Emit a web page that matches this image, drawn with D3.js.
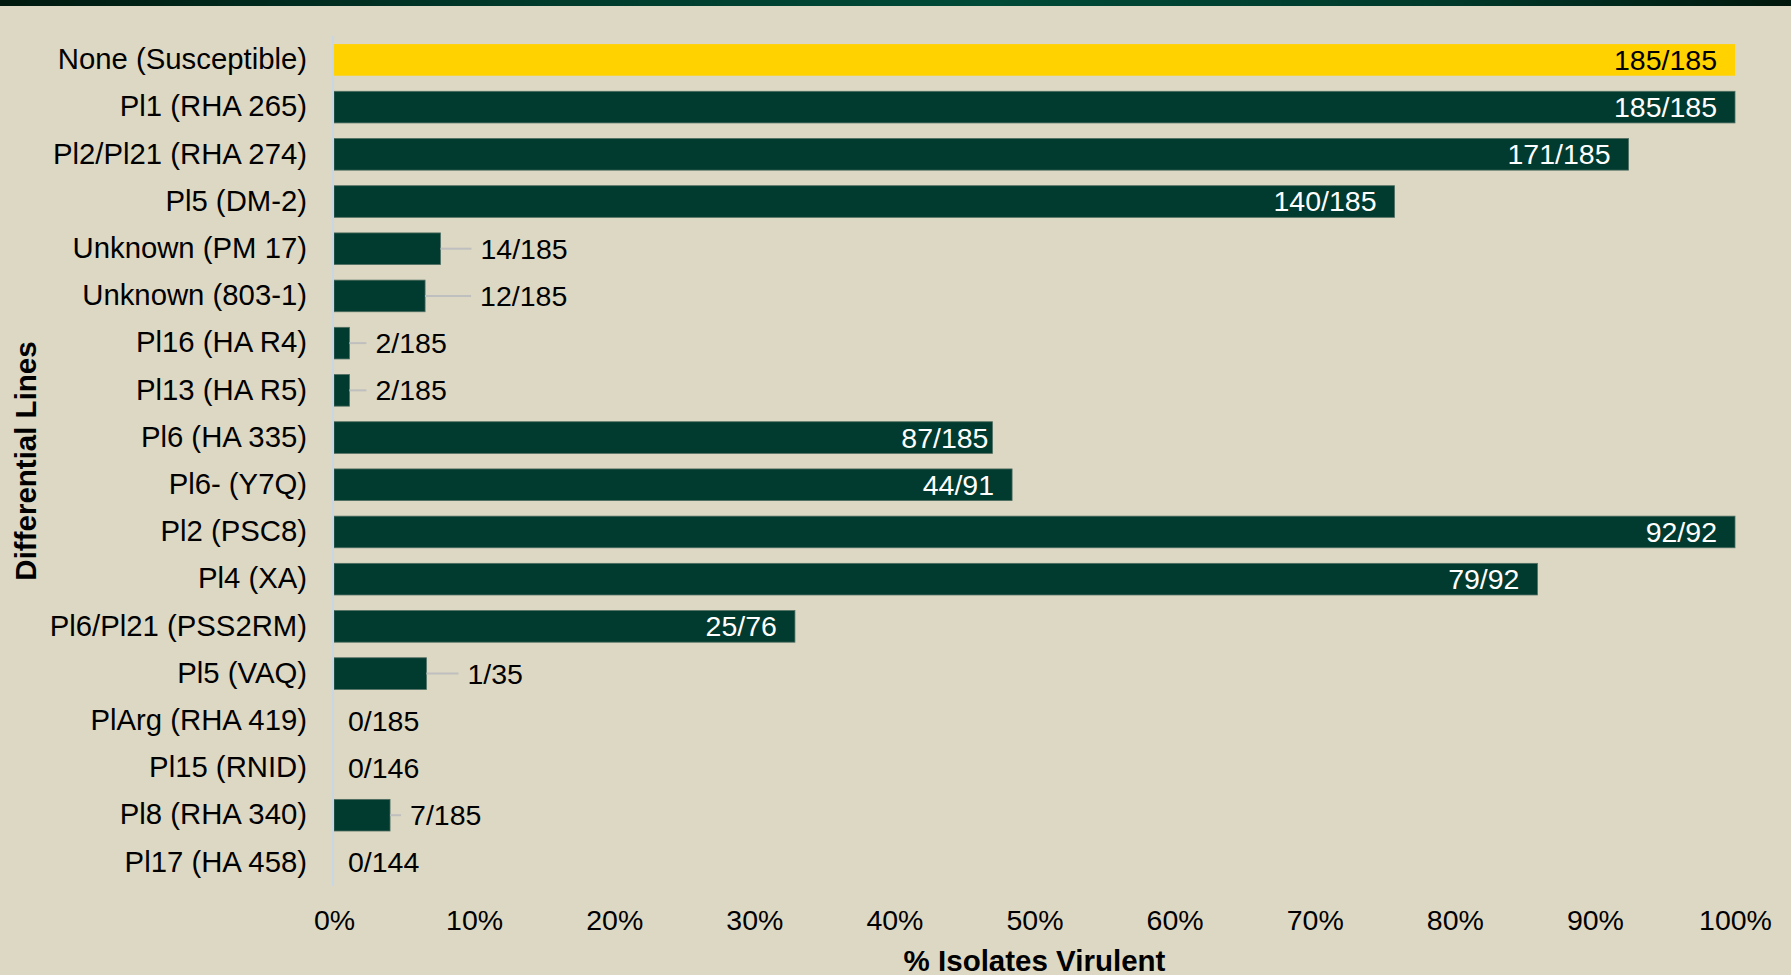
<!DOCTYPE html>
<html>
<head>
<meta charset="utf-8">
<script src="https://cdn.jsdelivr.net/npm/d3@7/dist/d3.min.js"></script>
<style>
  html, body { margin: 0; padding: 0; background: #ddd8c3; }
  svg { display: block; font-family: "Liberation Sans", Arial, sans-serif; }
</style>
</head>
<body>
<script>
// differential lines, top to bottom
const categories = [
  "None (Susceptible)", "Pl1 (RHA 265)", "Pl2/Pl21 (RHA 274)", "Pl5 (DM-2)",
  "Unknown (PM 17)", "Unknown (803-1)", "Pl16 (HA R4)", "Pl13 (HA R5)",
  "Pl6 (HA 335)", "Pl6- (Y7Q)", "Pl2 (PSC8)", "Pl4 (XA)", "Pl6/Pl21 (PSS2RM)",
  "Pl5 (VAQ)", "PlArg (RHA 419)", "Pl15 (RNID)", "Pl8 (RHA 340)", "Pl17 (HA 458)"
];
// % isolates virulent (bar length)
const virulentPct = [100, 100, 92.4, 75.7, 7.6, 6.5, 1.1, 1.1, 47.0, 48.4, 100, 85.9, 32.9, 6.6, 0, 0, 4.0, 0];
// virulent / tested isolates
const isolateCounts = [
  "185/185", "185/185", "171/185", "140/185", "14/185", "12/185", "2/185", "2/185",
  "87/185", "44/91", "92/92", "79/92", "25/76", "1/35", "0/185", "0/146", "7/185", "0/144"
];
const xTicks = [0, 10, 20, 30, 40, 50, 60, 70, 80, 90, 100];

const W = 1791, H = 975;
const green = "#013a2f", yellow = "#ffd200", bg = "#ddd8c3";
const fontSize = 28.5;
const catFontSize = 29.3;
const titleSize = 29.5;

// excel placed the outside labels by hand, distance from bar end to label (px)
const outsideGap = {
  "Unknown (PM 17)": 40, "Unknown (803-1)": 55, "Pl16 (HA R4)": 26, "Pl13 (HA R5)": 26,
  "Pl5 (VAQ)": 41, "Pl8 (RHA 340)": 20
};
// same for the inside labels, distance from bar end back to the label end
const insideGap = { "Pl6 (HA 335)": 4 };

const data = categories.map((c, i) => ({ cat: c, pct: virulentPct[i], label: isolateCounts[i] }));

const svg = d3.select("body").append("svg")
  .attr("width", W)
  .attr("height", H);

svg.append("rect").attr("width", W).attr("height", H).attr("fill", bg);

// dark green band at the top of the slide
const grad = svg.append("defs").append("linearGradient").attr("id", "topband");
[["0%", "#00190f"], ["30%", "#003a2b"], ["55%", "#004a38"], ["80%", "#003a2b"], ["100%", "#00170d"]]
  .forEach(s => grad.append("stop").attr("offset", s[0]).attr("stop-color", s[1]));
svg.append("rect").attr("width", W).attr("height", 6).attr("fill", "url(#topband)");

const x = d3.scaleLinear().domain([0, 100]).range([334, 1735]);
const y = d3.scaleBand().domain(categories).range([36.3, 886]).paddingInner(0.33).paddingOuter(0.165);

// bars
svg.append("g").selectAll("rect")
  .data(data)
  .join("rect")
    .attr("x", x(0))
    .attr("y", d => y(d.cat))
    .attr("width", d => x(d.pct) - x(0))
    .attr("height", y.bandwidth())
    .attr("fill", (d, i) => i === 0 ? yellow : green)
    .attr("stroke", (d, i) => i === 0 ? "none" : "#4f6e62")
    .attr("stroke-width", 0.8);

// vertical axis line
svg.append("line")
  .attr("x1", 333).attr("x2", 333)
  .attr("y1", 36).attr("y2", 886)
  .attr("stroke", "#c9d6e3").attr("stroke-width", 2);

// category labels
svg.append("g").selectAll("text")
  .data(data)
  .join("text")
    .attr("x", 307)
    .attr("y", d => y(d.cat) + y.bandwidth() / 2 - 1)
    .attr("dy", "0.35em")
    .attr("text-anchor", "end")
    .attr("font-size", catFontSize)
    .attr("fill", "#000")
    .text(d => d.cat);

// value labels
const inside = data.filter(d => d.pct >= 20);
const outside = data.filter(d => d.pct < 20);

svg.append("g").selectAll("text")
  .data(inside)
  .join("text")
    .attr("x", d => x(d.pct) - (insideGap[d.cat] || 18))
    .attr("y", d => y(d.cat) + y.bandwidth() / 2)
    .attr("dy", "0.35em")
    .attr("text-anchor", "end")
    .attr("font-size", fontSize)
    .attr("fill", d => d.cat === categories[0] ? "#000" : "#fff")
    .text(d => d.label);

const labelX = d => d.pct > 0 ? x(d.pct) + (outsideGap[d.cat] || 26) : x(0) + 14;

// leader lines
svg.append("g").selectAll("line")
  .data(outside.filter(d => d.pct > 0))
  .join("line")
    .attr("x1", d => x(d.pct))
    .attr("x2", d => labelX(d) - 9)
    .attr("y1", d => y(d.cat) + y.bandwidth() / 2)
    .attr("y2", d => y(d.cat) + y.bandwidth() / 2)
    .attr("stroke", "#bfbfbf").attr("stroke-width", 2);

svg.append("g").selectAll("text")
  .data(outside)
  .join("text")
    .attr("x", labelX)
    .attr("y", d => y(d.cat) + y.bandwidth() / 2)
    .attr("dy", "0.35em")
    .attr("font-size", fontSize)
    .attr("fill", "#000")
    .text(d => d.label);

// x axis, labels only
const xAxis = svg.append("g")
  .attr("transform", "translate(0,930)")
  .call(d3.axisBottom(x).tickValues(xTicks).tickFormat(d => d + "%").tickSize(0).tickPadding(0));
xAxis.select(".domain").remove();
xAxis.selectAll("text")
  .attr("dy", 0)
  .attr("font-size", fontSize)
  .attr("font-family", "Liberation Sans, Arial, sans-serif")
  .attr("fill", "#000");

// axis titles
svg.append("text")
  .attr("x", (x(0) + x(100)) / 2)
  .attr("y", 971)
  .attr("text-anchor", "middle")
  .attr("font-size", titleSize)
  .attr("font-weight", "bold")
  .text("% Isolates Virulent");

svg.append("text")
  .attr("transform", "translate(36,461) rotate(-90)")
  .attr("text-anchor", "middle")
  .attr("font-size", titleSize)
  .attr("font-weight", "bold")
  .text("Differential Lines");
</script>
</body>
</html>
